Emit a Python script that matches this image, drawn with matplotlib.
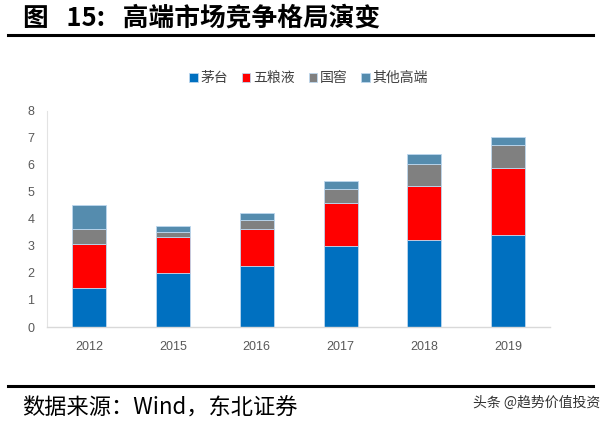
import matplotlib
matplotlib.use("Agg")
import matplotlib.pyplot as plt
import numpy as np

plt.rcParams['font.family'] = ['Noto Sans CJK SC', 'DejaVu Sans']

years = ["2012", "2015", "2016", "2017", "2018", "2019"]
series_names = ["茅台", "五粮液", "国窖", "其他高端"]
maotai = [1.46, 2.00, 2.26, 2.98, 3.22, 3.41]
wuliangye = [1.62, 1.32, 1.36, 1.60, 2.00, 2.47]
guojiao = [0.53, 0.18, 0.32, 0.52, 0.82, 0.83]
others = [0.91, 0.24, 0.28, 0.30, 0.35, 0.33]
yticks = [0, 1, 2, 3, 4, 5, 6, 7, 8]

colors = ["#0070C0", "#FF0000", "#808080", "#558CAE"]

fig = plt.figure(figsize=(6.16, 4.22), dpi=100)
ax = fig.add_axes([0.0763, 0.225, 0.817, 0.513])

x = np.arange(len(years))
bottom = np.zeros(len(years))
for name, vals, c in zip(series_names, [maotai, wuliangye, guojiao, others], colors):
    ax.bar(x, vals, 0.405, bottom=bottom, color=c, label=name,
           edgecolor="#BDD7EE", linewidth=0.6)
    bottom += np.array(vals)

ax.set_xlim(-0.5, 5.5)
ax.set_ylim(0, 8)
ax.set_yticks(yticks)
ax.set_xticks(x)
ax.set_xticklabels(years)
ax.tick_params(axis="both", length=0, labelsize=9, colors="#595959")
ax.tick_params(axis="x", pad=10)
ax.tick_params(axis="y", pad=9)
for lab in ax.get_xticklabels() + ax.get_yticklabels():
    lab.set_family("Liberation Sans")
for s in ["top", "right"]:
    ax.spines[s].set_visible(False)
ax.spines["bottom"].set_color("#D9D9D9")
ax.spines["left"].set_color("#E3E3E3")
ax.spines["bottom"].set_linewidth(1.0)

leg = ax.legend(loc="lower center", bbox_to_anchor=(0.52, 1.06), ncol=4, frameon=False,
                fontsize=10, handlelength=0.6, handleheight=0.6, handletextpad=0.2,
                columnspacing=1.0, labelcolor="#404040")

fig.text(0.038, 0.958, "图   15:   高端市场竞争格局演变", fontsize=18.5, fontweight="bold",
         va="center", ha="left", color="black")
fig.add_artist(plt.Line2D([0.013, 0.962], [0.917, 0.917], color="black", linewidth=2.2))
fig.add_artist(plt.Line2D([0.013, 0.962], [0.085, 0.085], color="black", linewidth=2.2))
fig.text(0.036, 0.033, "数据来源：Wind，东北证券", fontsize=16, va="center", ha="left")
fig.text(0.975, 0.045, "头条 @趋势价值投资", fontsize=10, va="center", ha="right", color="#333333")

fig.savefig("out.png", dpi=100)
